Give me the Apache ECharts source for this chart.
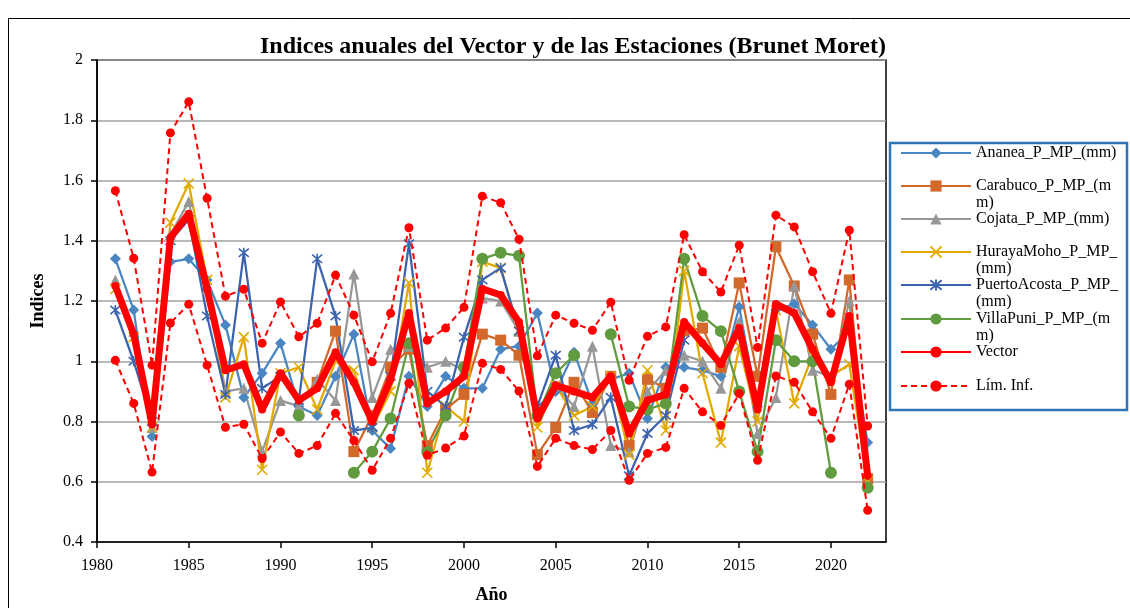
<!DOCTYPE html>
<html lang="es">
<head>
    <meta charset="UTF-8">
    <title>Indices anuales</title>
    <style>
        html,body{margin:0;padding:0;background:#fff;}
        #chart{width:1130px;height:608px;}
    </style>
    <script src="https://cdn.jsdelivr.net/npm/echarts@6/dist/echarts.min.js"></script>
</head>
<body>
    <div id="chart"></div>
</body>
<script>
    var mCharts = echarts.init(document.getElementById('chart'));

    // años 1981 - 2022
    var years = [];
    for (var y = 1981; y <= 2022; y++) years.push(y);

    var ananea = [1.34,1.17,0.75,1.33,1.34,1.27,1.12,0.88,0.96,1.06,0.85,0.82,0.95,1.09,0.77,0.71,0.95,0.85,0.95,0.91,
        0.91,1.04,1.05,1.16,0.90,1.03,0.86,0.94,0.96,0.81,0.98,0.98,0.97,0.95,1.18,0.85,1.17,1.19,1.12,1.04,1.10,0.73];
    var carabuco = [null,null,null,null,null,null,null,null,null,null,null,0.93,1.10,0.70,0.82,0.98,1.04,0.72,0.84,0.89,
        1.09,1.07,1.02,0.69,0.78,0.93,0.83,0.95,0.72,0.94,0.91,1.10,1.11,0.98,1.26,0.95,1.38,1.25,1.09,0.89,1.27,0.61];
    var cojata = [1.27,1.10,0.78,1.42,1.53,1.24,0.90,0.91,0.70,0.87,0.85,0.94,0.87,1.29,0.88,1.04,1.05,0.98,1.00,0.97,
        1.21,1.20,1.10,0.84,0.92,0.85,1.05,0.72,0.70,0.90,0.97,1.02,1.00,0.91,1.13,0.76,0.88,1.25,0.97,0.95,1.20,0.60];
    var huraya = [1.24,1.08,0.78,1.46,1.59,1.27,0.88,1.08,0.64,0.96,0.98,0.84,1.00,0.97,0.78,0.90,1.26,0.63,0.85,0.80,
        1.33,1.31,1.10,0.78,0.92,0.82,0.85,0.95,0.69,0.97,0.77,1.30,0.96,0.73,1.05,0.80,1.17,0.86,1.02,0.95,0.99,0.60];
    var puerto = [1.17,1.00,0.80,1.40,1.47,1.15,0.89,1.36,0.91,0.95,0.87,1.34,1.15,0.77,0.78,0.95,1.39,0.90,0.85,1.08,
        1.27,1.31,1.10,0.85,1.02,0.77,0.79,0.88,0.62,0.76,0.82,1.07,null,null,null,null,null,null,null,null,null,null];
    var villa = [null,null,null,null,null,null,null,null,null,null,0.82,null,null,0.63,0.70,0.81,1.06,0.70,0.82,0.98,
        1.34,1.36,1.35,0.82,0.96,1.02,null,1.09,0.85,0.84,0.86,1.34,1.15,1.10,0.90,0.70,1.07,1.00,1.00,0.63,null,0.58];
    var vector = [1.25,1.09,0.79,1.41,1.49,1.24,0.97,0.99,0.84,0.96,0.87,0.91,1.03,0.93,0.80,0.94,1.16,0.86,0.90,0.95,
        1.24,1.22,1.13,0.81,0.92,0.90,0.88,0.95,0.76,0.87,0.89,1.13,1.06,0.99,1.11,0.84,1.19,1.16,1.04,0.93,1.15,0.62];
    var limSup = [1.566,1.342,0.987,1.758,1.861,1.541,1.216,1.239,1.06,1.197,1.081,1.126,1.286,1.153,0.998,1.159,1.443,1.07,1.11,1.179,
        1.548,1.526,1.405,1.018,1.153,1.126,1.103,1.196,0.937,1.083,1.114,1.42,1.297,1.23,1.385,1.046,1.485,1.446,1.297,1.159,1.435,0.785];
    var limInf = [1.003,0.86,0.632,1.127,1.189,0.987,0.781,0.791,0.677,0.765,0.694,0.72,0.827,0.737,0.638,0.744,0.927,0.688,0.712,0.752,
        0.993,0.973,0.901,0.651,0.744,0.72,0.707,0.77,0.605,0.694,0.714,0.91,0.832,0.787,0.893,0.671,0.951,0.93,0.832,0.744,0.924,0.505];

    var FONT = '"Liberation Serif", "Times New Roman", serif';

    // x con una raya vertical = asterisco
    var xPath = 'path://M0,0L10,10M10,0L0,10';
    var starPath = 'path://M0,0L10,10M10,0L0,10M5,-1L5,11';

    function pairs(arr){
        return years.map(function(yr, i){ return [yr, arr[i]]; });
    }

    function station(name, data, color, symbol, size, hollow){
        return {
            name: name,
            type: 'line',
            data: pairs(data),
            symbol: symbol,
            symbolSize: size,
            connectNulls: false,
            lineStyle: {color: color, width: 2.25},
            itemStyle: hollow ? {color: 'rgba(0,0,0,0)', borderColor: color, borderWidth: 1.6} : {color: color},
            emphasis: {disabled: true},
            z: 2
        };
    }

    var series = [
        station('Ananea_P_MP_(mm)', ananea, '#4a86c2', 'diamond', 11),
        station('Carabuco_P_MP_(mm)', carabuco, '#d2692a', 'rect', 11),
        station('Cojata_P_MP_(mm)', cojata, '#979797', 'triangle', 11),
        station('HurayaMoho_P_MP_(mm)', huraya, '#e2aa00', xPath, 10, true),
        station('PuertoAcosta_P_MP_(mm)', puerto, '#3b63ae', starPath, 10, true),
        station('VillaPuni_P_MP_(mm)', villa, '#609b3f', 'circle', 12),
        {
            name: 'Vector', type: 'line', data: pairs(vector),
            symbol: 'circle', symbolSize: 8,
            lineStyle: {color: '#ff0000', width: 7},
            itemStyle: {color: '#ff0000'},
            emphasis: {disabled: true}, z: 4
        },
        {
            name: 'Lím. Inf.', type: 'line', data: pairs(limInf),
            symbol: 'circle', symbolSize: 9,
            lineStyle: {color: '#ff0000', width: 2, type: [6, 4]},
            itemStyle: {color: '#ff0000'},
            emphasis: {disabled: true}, z: 3
        },
        {
            name: 'Lím. Sup.', type: 'line', data: pairs(limSup),
            symbol: 'circle', symbolSize: 9,
            lineStyle: {color: '#ff0000', width: 2, type: [6, 4]},
            itemStyle: {color: '#ff0000'},
            emphasis: {disabled: true}, z: 3
        }
    ];

    // leyenda: un bloque por serie, para poder cortar los nombres largos
    var legendItems = [
        {name: 'Ananea_P_MP_(mm)', text: 'Ananea_P_MP_(mm)', cy: 153},
        {name: 'Carabuco_P_MP_(mm)', text: 'Carabuco_P_MP_(m\nm)', cy: 186},
        {name: 'Cojata_P_MP_(mm)', text: 'Cojata_P_MP_(mm)', cy: 219},
        {name: 'HurayaMoho_P_MP_(mm)', text: 'HurayaMoho_P_MP_\n(mm)', cy: 252},
        {name: 'PuertoAcosta_P_MP_(mm)', text: 'PuertoAcosta_P_MP_\n(mm)', cy: 285},
        {name: 'VillaPuni_P_MP_(mm)', text: 'VillaPuni_P_MP_(m\nm)', cy: 319},
        {name: 'Vector', text: 'Vector', cy: 352},
        {name: 'Lím. Inf.', text: 'Lím. Inf.', cy: 386}
    ];
    var LH = 17;
    var legends = legendItems.map(function(it){
        var wrapped = it.text.indexOf('\n') >= 0;
        var h = wrapped ? LH * 3 : LH;
        return {
            data: [it.name],
            left: 900,
            top: it.cy - h / 2,
            padding: 0,
            itemWidth: 70,
            itemHeight: 14,
            itemGap: 6,
            selectedMode: false,
            formatter: function(){ return wrapped ? ' \n' + it.text : it.text; },
            textStyle: {fontFamily: FONT, fontSize: 16, color: '#000', lineHeight: LH}
        };
    });

    var option = {
        backgroundColor: '#fff',
        animation: false,
        title: {
            text: 'Indices anuales del Vector y de las Estaciones (Brunet Moret)',
            left: 568, top: 30, textAlign: 'center',
            textStyle: {fontFamily: FONT, fontSize: 24, fontWeight: 'bold', color: '#000'}
        },
        legend: legends,
        grid: {
            left: 97, top: 60, right: 244, bottom: 66,
            outerBoundsMode: 'none', containLabel: false,
            show: true, borderColor: '#000', borderWidth: 1.5, backgroundColor: '#fff'
        },
        xAxis: {
            type: 'value', min: 1980, max: 2023, interval: 5,
            name: 'Año', nameLocation: 'middle', nameGap: 44,
            nameTextStyle: {fontFamily: FONT, fontSize: 18, fontWeight: 'bold', color: '#000'},
            axisLine: {lineStyle: {color: '#000', width: 1.5}},
            axisTick: {show: true, length: 6, lineStyle: {color: '#000', width: 1.5}},
            axisLabel: {
                fontFamily: FONT, fontSize: 16, color: '#000', margin: 16, showMaxLabel: false,
                formatter: function(v){ return v % 5 === 0 ? v : ''; }
            },
            splitLine: {show: false}
        },
        yAxis: {
            type: 'value', min: 0.4, max: 2, interval: 0.2,
            name: 'Indices', nameLocation: 'middle', nameGap: 50,
            nameTextStyle: {fontFamily: FONT, fontSize: 18, fontWeight: 'bold', color: '#000'},
            axisLine: {show: true, lineStyle: {color: '#000', width: 1.5}},
            axisTick: {show: true, length: 6, lineStyle: {color: '#000', width: 1.5}},
            axisLabel: {fontFamily: FONT, fontSize: 16, color: '#000', margin: 14},
            splitLine: {show: true, lineStyle: {color: '#a0a0a0', width: 1.5}}
        },
        graphic: [
            {
                type: 'rect', silent: true, z: -1,
                shape: {x: 8.5, y: 18.5, width: 1140, height: 620},
                style: {fill: 'none', stroke: '#000', lineWidth: 1}
            },
            {
                type: 'rect', silent: true,
                shape: {x: 890, y: 143, width: 237, height: 267},
                style: {fill: 'none', stroke: '#2e75b6', lineWidth: 2.5}
            }
        ],
        series: series
    };

    mCharts.setOption(option);
</script>
</html>
